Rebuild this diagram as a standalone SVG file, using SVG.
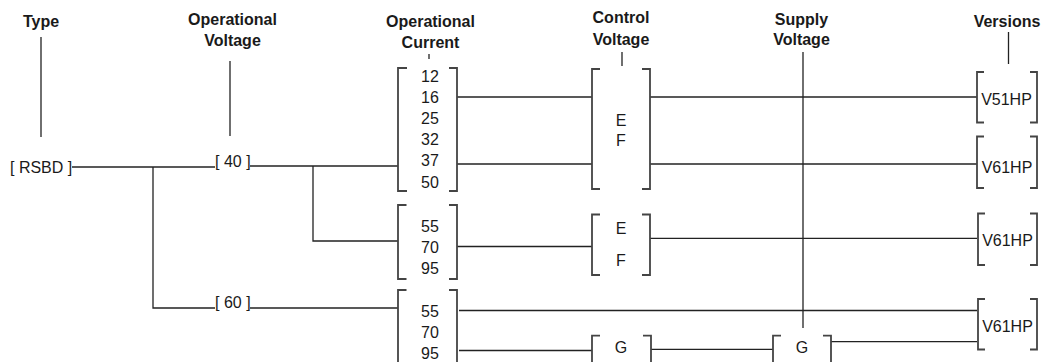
<svg xmlns="http://www.w3.org/2000/svg" width="1044" height="362" viewBox="0 0 1044 362">
<style>
text{font-family:"Liberation Sans",Arial,sans-serif;font-size:16px;fill:#1a1a1a}
.h{font-weight:bold;text-anchor:middle}
.c{text-anchor:middle}
.br{fill:none;stroke:#444;stroke-width:1.8}
.ln{fill:none;stroke:#222;stroke-width:1.3}
</style>
<rect width="1044" height="362" fill="#fff"/>
<g id="headers">
<g id="hdr-type"><text class="h" x="41" y="26.5">Type</text></g>
<g id="hdr-opvolt"><text class="h" x="232.5" y="24.5">Operational</text><text class="h" x="232.5" y="46">Voltage</text></g>
<g id="hdr-opcur"><text class="h" x="430.5" y="27">Operational</text><text class="h" x="430.5" y="48">Current</text></g>
<g id="hdr-ctl"><text class="h" x="621" y="22.5">Control</text><text class="h" x="621" y="44.5">Voltage</text></g>
<g id="hdr-sup"><text class="h" x="801.5" y="24.5">Supply</text><text class="h" x="801.5" y="45">Voltage</text></g>
<g id="hdr-ver"><text class="h" x="1007" y="26.5">Versions</text></g>
</g>
<g id="connectors" class="ln">
<path d="M41,37V137"/>
<path d="M230,61V136"/>
<path d="M429,54V59"/>
<path d="M622,52V66"/>
<path d="M803,52V328"/>
<path d="M1008.5,32V64"/>
<path d="M72,167H215"/>
<path d="M250,166H398"/>
<path d="M153,167V308H215"/>
<path d="M313,166V241H398"/>
<path d="M250,308H398"/>
<path d="M457,97H592"/>
<path d="M457,164H592"/>
<path d="M650,97H977"/>
<path d="M650,164H977"/>
<path d="M457,246.5H592"/>
<path d="M650,238.3H977"/>
<path d="M459,310.5H977"/>
<path d="M459,350.5H592"/>
<path d="M651,349.3H773"/>
<path d="M831,341.7H977"/>
</g>
<g id="node-rsbd"><text x="10" y="173">[ RSBD ]</text></g>
<g id="node-v40"><text x="215" y="166.5">[ 40 ]</text></g>
<g id="node-v60"><text x="215" y="307.5">[ 60 ]</text></g>
<g id="node-cur1">
<path class="br" d="M407,68H398V191H407M449,68H457V191H449"/>
<text class="c" x="430" y="81.5">12</text>
<text class="c" x="430" y="102.7">16</text>
<text class="c" x="430" y="123.9">25</text>
<text class="c" x="430" y="145.1">32</text>
<text class="c" x="430" y="166.3">37</text>
<text class="c" x="430" y="187.5">50</text>
</g>
<g id="node-cur2">
<path class="br" d="M406.5,205H398V279H406.5M449,205H457V279H449"/>
<text class="c" x="430" y="231.5">55</text>
<text class="c" x="430" y="252.7">70</text>
<text class="c" x="430" y="274">95</text>
</g>
<g id="node-cur3">
<path class="br" d="M406.5,290H398V372M449,290H457V372"/>
<text class="c" x="430" y="316.5">55</text>
<text class="c" x="430" y="337.7">70</text>
<text class="c" x="430" y="359">95</text>
</g>
<g id="node-ctl1">
<path class="br" d="M600,69H592V189H600M642,69H650V189H642"/>
<text class="c" x="621" y="126">E</text>
<text class="c" x="621" y="146">F</text>
</g>
<g id="node-ctl2">
<path class="br" d="M600,214.5H592V275H600M642,214.5H650V275H642"/>
<text class="c" x="621" y="234">E</text>
<text class="c" x="621" y="265.5">F</text>
</g>
<g id="node-ctl3">
<path class="br" d="M600,335.7H592V372M643,335.7H651V372"/>
<text class="c" x="621" y="352.5">G</text>
</g>
<g id="node-sup">
<path class="br" d="M781,335.7H773V372M823,335.7H831V372"/>
<text class="c" x="802" y="352.7">G</text>
</g>
<g id="node-ver1">
<path class="br" d="M984,72H977V122.5H984M1030,72H1037V122.5H1030"/>
<text class="c" x="1006.5" y="105">V51HP</text>
</g>
<g id="node-ver2">
<path class="br" d="M984,136.5H977V188H984M1030,136.5H1037V188H1030"/>
<text class="c" x="1007" y="172.5">V61HP</text>
</g>
<g id="node-ver3">
<path class="br" d="M985,213.5H978V265H985M1030,213.5H1037V265H1030"/>
<text class="c" x="1007.5" y="246">V61HP</text>
</g>
<g id="node-ver4">
<path class="br" d="M985,299H978V349.5H985M1030,299H1037V349.5H1030"/>
<text class="c" x="1007.5" y="331.5">V61HP</text>
</g>
</svg>
